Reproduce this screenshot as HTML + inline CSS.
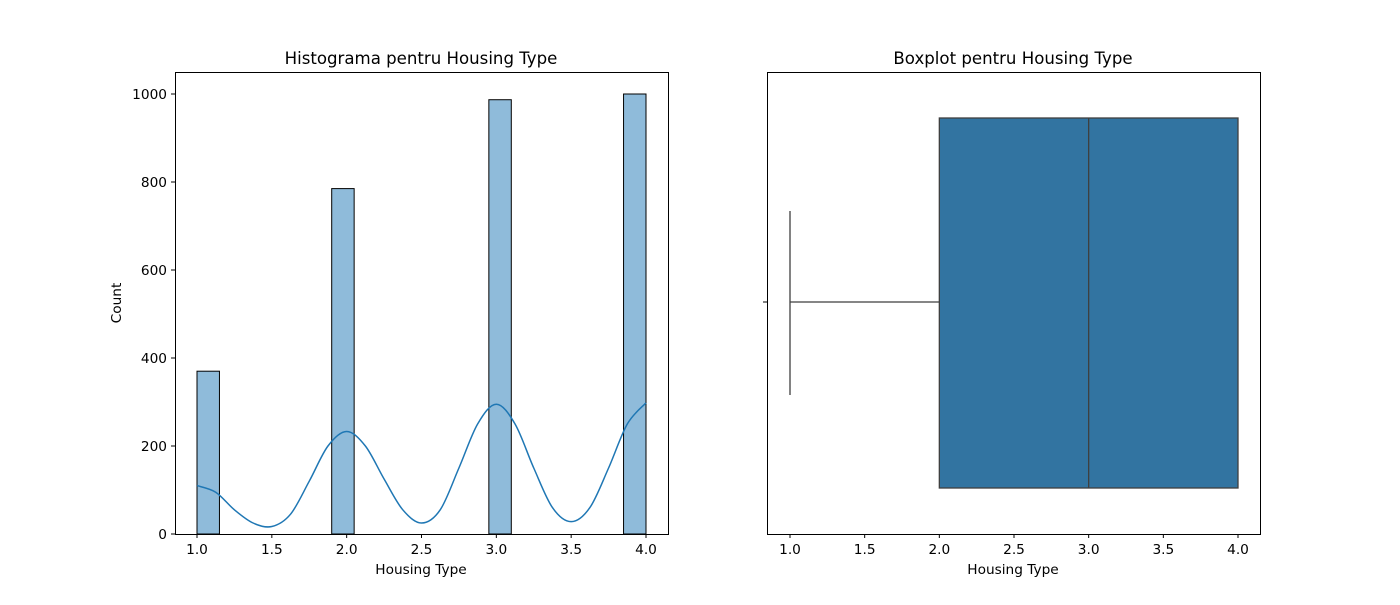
<!DOCTYPE html>
<html><head><meta charset="utf-8"><style>
body{margin:0;background:#fff;}
svg text{font-family:"DejaVu Sans","Liberation Sans",sans-serif;fill:#000;}
</style></head><body>
<svg width="1400" height="600" xmlns="http://www.w3.org/2000/svg">
<g id="left"></g>
<g id="right"></g>
</svg>
<script>
const binStarts=[1.0,1.9,2.95,3.85];
const binCounts=[370,785,987,1000];
const binWidth=0.15;
const kdeX=[1.0,1.125,1.25,1.375,1.5,1.625,1.75,1.875,2.0,2.125,2.25,2.375,2.5,2.625,2.75,2.875,3.0,3.125,3.25,3.375,3.5,3.625,3.75,3.875,4.0];
const kdeY=[110,95,55,25,17,45,120,200,233,200,125,55,25,55,150,250,295,250,150,60,28,60,150,250,298];
const xTicks=[1.0,1.5,2.0,2.5,3.0,3.5,4.0];
const yTicks=[0,200,400,600,800,1000];
const boxStats={min:1,q1:2,median:3,q3:4,max:4};

const NS="http://www.w3.org/2000/svg";
const FS=13.7, TS=16.6;
function mk(parent,tag,attrs,text){const e=document.createElementNS(NS,tag);for(const k in attrs)e.setAttribute(k,attrs[k]);if(text!==undefined)e.textContent=text;parent.appendChild(e);return e;}

// Left
const L=document.getElementById('left');
const lx=v=>197+(v-1)*(646-197)/3;
const ly=v=>534-v*0.44;
binStarts.forEach((s,i)=>{
 const r=mk(L,'rect',{x:lx(s),y:ly(binCounts[i]),width:lx(s+binWidth)-lx(s),height:ly(0)-ly(binCounts[i]),fill:'#8fbbda',stroke:'#000','stroke-width':1});
 
 
});
let pts=kdeX.map((x,i)=>[lx(x),ly(kdeY[i])]);
let d=`M${pts[0][0]},${pts[0][1]}`;
for(let i=0;i<pts.length-1;i++){const p0=pts[Math.max(0,i-1)],p1=pts[i],p2=pts[i+1],p3=pts[Math.min(pts.length-1,i+2)];
 d+=` C${p1[0]+(p2[0]-p0[0])/6},${p1[1]+(p2[1]-p0[1])/6} ${p2[0]-(p3[0]-p1[0])/6},${p2[1]-(p3[1]-p1[1])/6} ${p2[0]},${p2[1]}`;}
const kde=mk(L,'path',{d:d,fill:'none',stroke:'#1f77b4','stroke-width':1.5});


mk(L,'rect',{x:175.5,y:72.5,width:493,height:462,fill:'none',stroke:'#000','stroke-width':1});
xTicks.forEach(t=>{mk(L,'line',{x1:lx(t),x2:lx(t),y1:534,y2:538,stroke:'#000'});
 const tx=mk(L,'text',{x:lx(t),y:554,'font-size':FS,'text-anchor':'middle'},t.toFixed(1));
 });
yTicks.forEach(t=>{mk(L,'line',{x1:171,x2:175,y1:ly(t),y2:ly(t),stroke:'#000'});
 const tx=mk(L,'text',{x:167,y:ly(t)+5,'font-size':FS,'text-anchor':'end'},t);
 });
mk(L,'text',{x:421,y:574,'font-size':FS,'text-anchor':'middle',},'Housing Type');
mk(L,'text',{x:121,y:303,'font-size':FS,'text-anchor':'middle',transform:'rotate(-90 121 303)',},'Count');
mk(L,'text',{x:421,y:64,'font-size':TS,'text-anchor':'middle',},'Histograma pentru Housing Type');

// Right
const R=document.getElementById('right');
const rx=v=>790+(v-1)*(1238-790)/3;
const c='#3f3f3f';
mk(R,'line',{x1:rx(boxStats.min),x2:rx(boxStats.q1),y1:302,y2:302,stroke:c,'stroke-width':1.3});
mk(R,'line',{x1:rx(boxStats.min),x2:rx(boxStats.min),y1:211,y2:395,stroke:c,'stroke-width':1.3});
mk(R,'rect',{x:rx(boxStats.q1),y:118,width:rx(boxStats.q3)-rx(boxStats.q1),height:370,fill:'#3274a1',stroke:c,'stroke-width':1.3,});
mk(R,'line',{x1:rx(boxStats.median),x2:rx(boxStats.median),y1:118,y2:488,stroke:c,'stroke-width':1.3,});
mk(R,'rect',{x:767.5,y:72.5,width:493,height:462,fill:'none',stroke:'#000','stroke-width':1});
mk(R,'line',{x1:763,x2:767,y1:302,y2:302,stroke:'#000'});
xTicks.forEach(t=>{mk(R,'line',{x1:rx(t),x2:rx(t),y1:534,y2:538,stroke:'#000'});
 const tx=mk(R,'text',{x:rx(t),y:554,'font-size':FS,'text-anchor':'middle'},t.toFixed(1));
 });
mk(R,'text',{x:1013,y:574,'font-size':FS,'text-anchor':'middle',},'Housing Type');
mk(R,'text',{x:1013,y:64,'font-size':TS,'text-anchor':'middle',},'Boxplot pentru Housing Type');
</script>
</body></html>
